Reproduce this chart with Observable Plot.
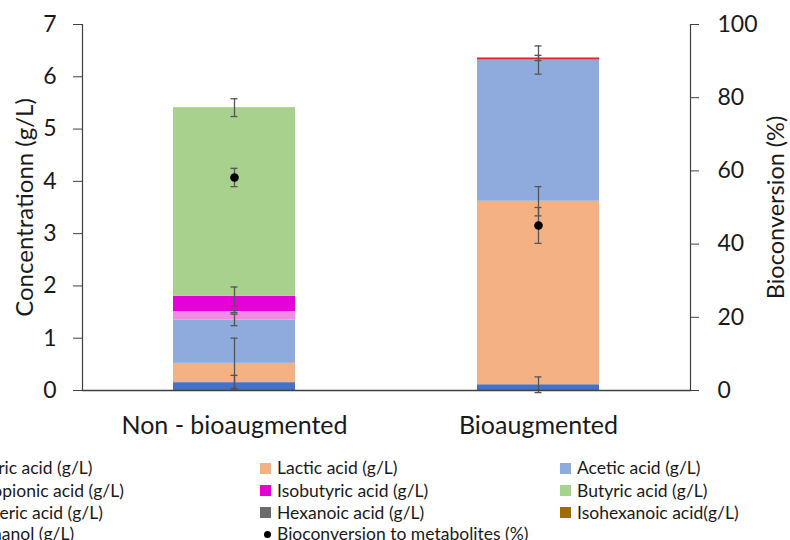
<!DOCTYPE html>
<html>
<head>
<meta charset="utf-8">
<script src="https://cdn.jsdelivr.net/npm/d3@7"></script>
<script src="https://cdn.jsdelivr.net/npm/@observablehq/plot@0.6"></script>
<style>
  html, body { margin: 0; padding: 0; background: #fff; overflow: hidden; width: 790px; height: 540px; }
  #wrap { position: relative; width: 790px; height: 540px; font-family: Lato, "Open Sans", sans-serif; }
  #legend { position: absolute; left: 0; top: 0; width: 790px; height: 540px; pointer-events: none; }
  .li { position: absolute; font-size: 17.5px; color: #1a1a1a; white-space: nowrap; line-height: 22px; }
  .sw { position: absolute; width: 11px; height: 11px; }
  .dt { position: absolute; width: 7px; height: 7px; border-radius: 50%; background: #000; }
</style>
</head>
<body>
<div id="wrap"><div id="chart"></div><div id="legend"></div></div>
<script>
// ---- data ----
const categories = ["Non - bioaugmented", "Bioaugmented"];
const series = [
  "Citric acid (g/L)", "Lactic acid (g/L)", "Acetic acid (g/L)",
  "Propionic acid (g/L)", "Isobutyric acid (g/L)", "Butyric acid (g/L)",
  "Valeric acid (g/L)", "Hexanoic acid (g/L)", "Isohexanoic acid(g/L)",
  "Ethanol (g/L)"
];
const seriesColors = [
  "#4472C4", "#F4B183", "#8FAADC",
  "#F08CE2", "#E600DA", "#A9D18E",
  "#E8232B", "#6B6B6B", "#9E6C00",
  "#FFC000"
];
const nonBioValues = [0.15, 0.37, 0.83, 0.16, 0.29, 3.61, 0, 0, 0, 0];
const bioValues    = [0.11, 3.51, 2.70, 0,    0,    0,    0.04, 0, 0, 0];
const nonBioSD     = [0.14, 0.48, 0.11, 0.02, 0.18, 0.17, 0, 0, 0, 0];
const bioSD        = [0.15, 0.28, 0.27, 0,    0,    0,    0.05, 0, 0, 0];
const bioconversionLabel = "Bioconversion to metabolites (%)";
const bioconversion   = [58.2, 45.1];
const bioconversionSD = [2.5, 4.9];
const leftTicks  = [0, 1, 2, 3, 4, 5, 6, 7];
const rightTicks = [0, 20, 40, 60, 80, 100];
const leftTitle  = "Concentrationn (g/L)";
const rightTitle = "Bioconversion (%)";

// ---- build tables ----
const allValues = [nonBioValues, bioValues];
const allSD = [nonBioSD, bioSD];
const rows = [];
const errs = [];
categories.forEach((cat, ci) => {
  const cum = d3.cumsum(allValues[ci]);
  series.forEach((s, si) => {
    const v = allValues[ci][si];
    if (v > 0) rows.push({cat, series: s, value: v});
    const sd = allSD[ci][si];
    if (v > 0 && sd > 0) errs.push({cat, top: cum[si], sd});
  });
});
const pctScale = 7 / 100; // right axis 0-100 maps onto left 0-7
const bio = categories.map((cat, i) => ({cat, y: bioconversion[i] * pctScale, sd: bioconversionSD[i] * pctScale}));

const capInset = 57.5;
const errColor = "#555";
const font = "Lato, 'Open Sans', sans-serif";

const chart = Plot.plot({
  width: 790, height: 450,
  marginLeft: 82, marginRight: 100, marginTop: 24, marginBottom: 60,
  style: {fontFamily: font, color: "#1a1a1a", background: "#fff", overflow: "visible"},
  x: {domain: categories, paddingInner: 0.6, paddingOuter: 0.3, axis: null},
  y: {domain: [0, 7], axis: null},
  color: {domain: series, range: seriesColors},
  marks: [
    Plot.barY(rows, {x: "cat", y: "value", fill: "series"}),
    Plot.ruleX(errs, {x: "cat", y1: d => d.top - d.sd, y2: d => d.top + d.sd, stroke: errColor, strokeWidth: 1.3}),
    Plot.tickY(errs, {x: "cat", y: d => d.top + d.sd, stroke: errColor, strokeWidth: 1.3, insetLeft: capInset, insetRight: capInset}),
    Plot.tickY(errs, {x: "cat", y: d => d.top - d.sd, stroke: errColor, strokeWidth: 1.3, insetLeft: capInset, insetRight: capInset}),
    Plot.ruleX(bio, {x: "cat", y1: d => d.y - d.sd, y2: d => d.y + d.sd, stroke: errColor, strokeWidth: 1.3}),
    Plot.tickY(bio, {x: "cat", y: d => d.y + d.sd, stroke: errColor, strokeWidth: 1.3, insetLeft: capInset, insetRight: capInset}),
    Plot.tickY(bio, {x: "cat", y: d => d.y - d.sd, stroke: errColor, strokeWidth: 1.3, insetLeft: capInset, insetRight: capInset}),
    Plot.dot(bio, {x: "cat", y: "y", r: 4.3, fill: "#000"}),
    Plot.frame({anchor: "left", stroke: "#404040", strokeWidth: 1.2}),
    Plot.frame({anchor: "right", stroke: "#404040", strokeWidth: 1.2}),
    Plot.frame({anchor: "bottom", stroke: "#404040", strokeWidth: 1.5}),
    Plot.axisY(leftTicks, {anchor: "left", tickSize: 9, tickPadding: 17, fontSize: 23, stroke: "#404040",
      tickFormat: d => String(d), label: null}),
    Plot.axisY(rightTicks.map(p => p * pctScale), {anchor: "right", tickSize: 8, tickPadding: 19, fontSize: 23, stroke: "#404040",
      tickFormat: d => String(Math.round(d / pctScale)), label: null}),
    Plot.text([leftTitle], {frameAnchor: "left", rotate: -90, dx: -57, textAnchor: "middle", fontSize: 24, fill: "#1a1a1a"}),
    Plot.text([rightTitle], {frameAnchor: "right", rotate: -90, dx: 86, textAnchor: "middle", fontSize: 23.5, fill: "#1a1a1a"}),
    Plot.axisX(categories, {tickSize: 0, tickPadding: 26, fontSize: 25, label: null})
  ]
});
document.getElementById("chart").appendChild(chart);

// ---- legend (clipped at the left edge like the reference) ----
const legendItems = series.map((s, i) => ({label: s, color: seriesColors[i], type: "sq"}))
  .concat([{label: bioconversionLabel, color: "#000", type: "dot"}]);
const colX = [-24, 277, 577];
const rowY = [468, 490.5, 512.5, 534];
const leg = document.getElementById("legend");
legendItems.forEach((it, i) => {
  const c = i % 3, r = Math.floor(i / 3);
  const x = colX[c], y = rowY[r];
  const t = document.createElement("div");
  t.className = "li";
  t.style.left = x + "px";
  t.style.top = (y - 11) + "px";
  t.textContent = it.label;
  leg.appendChild(t);
  const m = document.createElement("div");
  if (it.type === "sq") {
    m.className = "sw";
    m.style.background = it.color;
    m.style.left = (x - 17) + "px";
    m.style.top = (y - 5.5) + "px";
  } else {
    m.className = "dt";
    m.style.left = (x - 13) + "px";
    m.style.top = (y - 3) + "px";
  }
  leg.appendChild(m);
});
</script>
</body>
</html>
